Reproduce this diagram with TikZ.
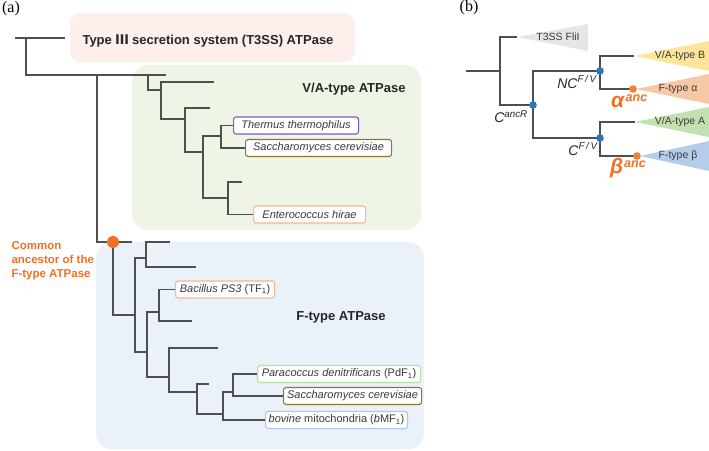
\documentclass[tikz,border=0pt]{standalone}
\usepackage{fontspec}
\setmainfont{Liberation Sans}
\newfontfamily\serifa{Liberation Serif}
\newfontfamily\cjkf{Noto Sans CJK JP}
\definecolor{edge}{HTML}{4F4F4F}
\definecolor{txt}{HTML}{3A3A3A}
\definecolor{orng}{HTML}{F37021}
\definecolor{t3fill}{HTML}{FDEFEC}
\definecolor{vafill}{HTML}{EEF4E6}
\definecolor{ffill}{HTML}{EAF1F8}
\definecolor{cpurple}{HTML}{8A55BE}
\definecolor{colive}{HTML}{8C7630}
\definecolor{cpeach}{HTML}{F1B896}
\definecolor{cgreen}{HTML}{B9DCA2}
\definecolor{cblue}{HTML}{A9C9EC}
\definecolor{bdot}{HTML}{2F73BF}
\definecolor{odot}{HTML}{F08033}
\definecolor{trgray}{HTML}{E6E6E6}
\definecolor{tryel}{HTML}{FCE49A}
\definecolor{trpeach}{HTML}{F8C8A6}
\definecolor{trgreen}{HTML}{C3E1B0}
\definecolor{trblue}{HTML}{B4CEEA}
\begin{document}
\begin{tikzpicture}[x=1pt,y=-1pt,
  br/.style={draw=edge, line width=1.1pt},
  lab/.style={draw, rounded corners=2.5pt, fill=white, line width=1.1pt, text=txt,
    font=\fontsize{11}{13}\selectfont, inner xsep=3pt, inner ysep=0pt,
    minimum height=17pt, anchor=west, align=center},
  ttl/.style={font=\bfseries\fontsize{13}{15}\selectfont, text=black!85},
  trlab/.style={font=\fontsize{10.5}{12}\selectfont, text=txt},
  anclab/.style={font=\itshape\fontsize{14}{16}\selectfont, text=black!85},
  greek/.style={font=\bfseries\itshape\fontsize{21}{22}\selectfont, text=orng, inner sep=0pt}]
\useasboundingbox (0,0) rectangle (709,450);

% ---------- panel (a) backgrounds ----------
\path[fill=t3fill, rounded corners=10pt] (70,13) rectangle (355,62);
\path[fill=vafill, rounded corners=16pt] (132,65) rectangle (421,230);
\path[fill=ffill, rounded corners=16pt] (96,242) rectangle (424,449);

\node[font=\serifa\fontsize{16}{18}\selectfont] (pa) at (11,9) {(a)};
\node[font=\serifa\fontsize{16}{18}\selectfont] (pb) at (469,8) {(b)};

\node[ttl] (t3title) at (208,41) {Type {\cjkf Ⅲ} secretion system (T3SS) ATPase};
\node[ttl] (vatitle) at (354,89) {V/A-type ATPase};
\node[ttl] (ftitle) at (341,317) {F-type ATPase};
\node[anchor=west, align=left, text=orng, font=\bfseries\fontsize{11.5}{14}\selectfont] (common) at (8,261) {Common\\ancestor of the\\F-type ATPase};

% ---------- labels ----------
\node[lab, draw=cpurple, minimum width=125pt] (thermus) at (233,125.5) {\itshape Thermus thermophilus};
\node[lab, draw=colive, minimum width=146pt] (saccA) at (245,148) {\itshape Saccharomyces cerevisiae};
\node[lab, draw=cpeach, minimum width=112pt] (entero) at (253,214.5) {\itshape Enterococcus hirae};
\node[lab, draw=cpeach, minimum width=99pt] (bacillus) at (175,289.5) {\textit{Bacillus PS3} (TF\textsubscript{1})};
\node[lab, draw=cgreen, minimum width=163pt] (parac) at (257,374) {\textit{Paracoccus denitrificans} (PdF\textsubscript{1})};
\node[lab, draw=colive, minimum width=138pt] (saccF) at (283,396) {\itshape Saccharomyces cerevisiae};
\node[lab, draw=cblue, minimum width=142pt] (bmf) at (265,420) {\textit{bovine} mitochondria (\textit{b}MF\textsubscript{1})};

% ---------- panel (a) tree coordinates ----------
\coordinate (s0) at (15,38);
\coordinate (n1) at (26,38);
\coordinate (t3leaf) at (65,38);
\coordinate (n2) at (97,75);
\coordinate (n3) at (148,75);
\coordinate (va1) at (166,75);
\coordinate (n4) at (161,90);
\coordinate (va2) at (214,82);
\coordinate (n5) at (185,119);
\coordinate (va3) at (210,108);
\coordinate (n6) at (203,152);
\coordinate (n7) at (221,136);
\coordinate (n8) at (228,198);
\coordinate (va4) at (242,182);
\coordinate (fanc) at (113,242);
\coordinate (f0) at (132,242);
\coordinate (m1) at (135,315);
\coordinate (m2) at (146,258);
\coordinate (f1) at (170,242);
\coordinate (f2) at (196,267);
\coordinate (m3) at (147,352);
\coordinate (m4) at (159,312);
\coordinate (f3) at (192,321);
\coordinate (m5) at (169,377);
\coordinate (f4) at (218,348);
\coordinate (m6) at (197,392);
\coordinate (f5) at (209,384);
\coordinate (m7) at (223,414);
\coordinate (m8) at (233,392);

\draw[br] (s0) -- (t3leaf);
\draw[br] (n1) |- (n2);
\draw[br] (n2) -- (n3);
\draw[br] (n2) |- (fanc);
\draw[br] (n3) -- (va1);
\draw[br] (n3) |- (n4);
\draw[br] (n4) |- (va2);
\draw[br] (n4) |- (n5);
\draw[br] (n5) |- (va3);
\draw[br] (n5) |- (n6);
\draw[br] (n6) |- (n7);
\draw[br] (n6) |- (n8);
\draw[br] (n7) |- (thermus.west);
\draw[br] (n7) |- (saccA.west);
\draw[br] (n8) |- (va4);
\draw[br] (n8) |- (entero.west);
\draw[br] (fanc) -- (f0);
\draw[br] (fanc) |- (m1);
\draw[br] (m1) |- (m2);
\draw[br] (m1) |- (m3);
\draw[br] (m2) |- (f1);
\draw[br] (m2) |- (f2);
\draw[br] (m3) |- (m4);
\draw[br] (m3) |- (m5);
\draw[br] (m4) |- (bacillus.west);
\draw[br] (m4) |- (f3);
\draw[br] (m5) |- (f4);
\draw[br] (m5) |- (m6);
\draw[br] (m6) |- (f5);
\draw[br] (m6) |- (m7);
\draw[br] (m7) |- (m8);
\draw[br] (m7) |- (bmf.west);
\draw[br] (m8) |- (parac.west);
\draw[br] (m8) |- (saccF.west);
\fill[orng] (fanc) circle (6pt);

% ---------- panel (b) ----------
\coordinate (b0) at (466,71);
\coordinate (bn1) at (500,71);
\coordinate (t3tip) at (517,37);
\coordinate (cancr) at (533,105);
\coordinate (ncfv) at (600,71);
\coordinate (cfv) at (600,138);
\coordinate (vabtip) at (634,56);
\coordinate (aanc) at (633,89);
\coordinate (atip) at (636,89);
\coordinate (vaatip) at (635,122);
\coordinate (banc) at (637,156);
\coordinate (btip) at (640,156);

\fill[trgray] (t3tip) -- (588,24) -- (588,51) -- cycle;
\fill[tryel] (vabtip) -- (709,41) -- (709,71) -- cycle;
\fill[trpeach] (atip) -- (709,74) -- (709,104) -- cycle;
\fill[trgreen] (vaatip) -- (709,107) -- (709,137) -- cycle;
\fill[trblue] (btip) -- (709,141) -- (709,171) -- cycle;

\draw[br] (b0) -- (bn1);
\draw[br] (bn1) |- (t3tip);
\draw[br] (bn1) |- (cancr);
\draw[br] (cancr) |- (ncfv);
\draw[br] (cancr) |- (cfv);
\draw[br] (ncfv) |- (vabtip);
\draw[br] (ncfv) |- (aanc);
\draw[br] (aanc) -- (atip);
\draw[br] (cfv) |- (vaatip);
\draw[br] (cfv) |- (banc);
\draw[br] (banc) -- (btip);

\fill[bdot] (cancr) circle (3.8pt);
\fill[bdot] (ncfv) circle (3.8pt);
\fill[bdot] (cfv) circle (3.8pt);
\fill[odot] (aanc) circle (3.8pt);
\fill[odot] (banc) circle (3.8pt);

\node[trlab] (lt3) at (558,37) {T3SS FliI};
\node[trlab] (lvab) at (680,56) {V/A-type B};
\node[trlab] (lfa) at (678,89) {F-type α};
\node[trlab] (lvaa) at (680,122) {V/A-type A};
\node[trlab] (lfb) at (678,156) {F-type β};

\node[anclab] (lcancr) at (511,117) {C\textsuperscript{ancR}};
\node[anclab] (lncfv) at (577,82) {NC\textsuperscript{F\,/\,V}};
\node[anclab] (lcfv) at (583,149) {C\textsuperscript{F\,/\,V}};
\node[greek, anchor=base west] (lalpha) at (611,107) {α\kern1.5pt\raisebox{6pt}{\fontsize{12.5}{13}\selectfont anc}};
\node[greek, anchor=base west] (lbeta) at (610,173) {β\kern1pt\raisebox{6pt}{\fontsize{12.5}{13}\selectfont anc}};
\end{tikzpicture}
\end{document}
